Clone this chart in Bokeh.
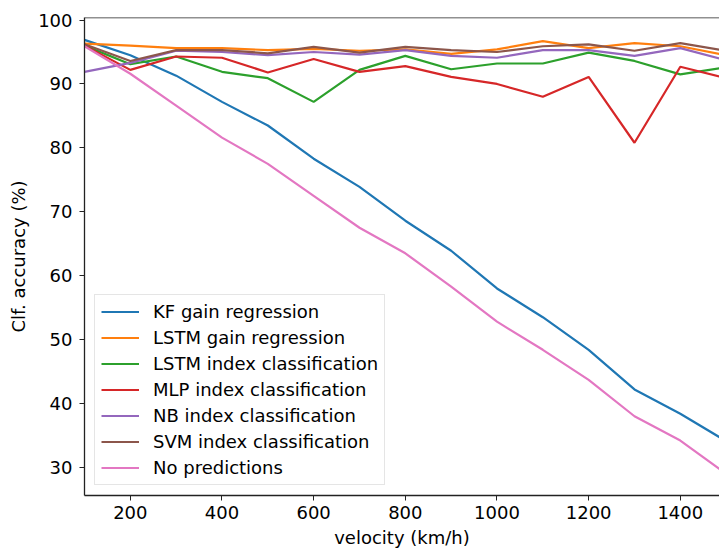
from bokeh.plotting import figure
from bokeh.models import Range1d, FixedTicker, Span
from bokeh.embed import file_html
from bokeh.resources import INLINE

velocity = [100, 200, 300, 400, 500, 600, 700, 800, 900, 1000, 1100, 1200, 1300, 1400, 1500]

kf_gain = [96.9, 94.5, 91.3, 87.2, 83.5, 78.3, 73.9, 68.6, 63.9, 58.0, 53.5, 48.4, 42.2, 38.4, 34.1]
lstm_gain = [96.3, 96.0, 95.6, 95.6, 95.3, 95.5, 95.2, 95.4, 94.7, 95.4, 96.7, 95.6, 96.4, 95.9, 94.5]
lstm_index = [96.0, 93.1, 94.3, 91.9, 90.9, 87.2, 92.2, 94.4, 92.3, 93.2, 93.2, 94.9, 93.6, 91.5, 92.6]
mlp_index = [96.0, 92.2, 94.3, 94.1, 91.8, 93.9, 91.9, 92.8, 91.1, 90.0, 88.0, 91.1, 80.8, 92.7, 90.9]
nb_index = [91.9, 93.3, 95.2, 95.0, 94.5, 95.0, 94.6, 95.3, 94.4, 94.1, 95.3, 95.3, 94.4, 95.6, 93.7]
svm_index = [96.2, 93.6, 95.3, 95.3, 94.8, 95.8, 94.9, 95.8, 95.3, 95.0, 95.9, 96.2, 95.2, 96.4, 95.2]
no_pred = [95.9, 91.6, 86.6, 81.6, 77.5, 72.5, 67.5, 63.5, 58.3, 52.8, 48.4, 43.7, 38.0, 34.2, 29.0]

series_names = ["KF gain regression", "LSTM gain regression", "LSTM index classification",
                "MLP index classification", "NB index classification", "SVM index classification",
                "No predictions"]
series_values = [kf_gain, lstm_gain, lstm_index, mlp_index, nb_index, svm_index, no_pred]
colors = ["#1f77b4", "#ff7f0e", "#2ca02c", "#d62728", "#9467bd", "#8c564b", "#e377c2"]

x_ticks = [200, 400, 600, 800, 1000, 1200, 1400]
y_ticks = [30, 40, 50, 60, 70, 80, 90, 100]

FONT = "DejaVu Sans"
FS = "18px"

p = figure(width=719, height=550, output_backend="svg", toolbar_location=None,
           x_range=Range1d(100, 1485.5), y_range=Range1d(25.6, 100.4),
           min_border_left=84, min_border_right=0, min_border_top=17, min_border_bottom=55)

for name, vals, c in zip(series_names, series_values, colors):
    p.line(velocity, vals, line_color=c, line_width=2.2, legend_label=name)

p.grid.visible = False
p.outline_line_color = None
p.add_layout(Span(location=100.4, dimension="width", line_color="#222222", line_width=1.3))

p.xaxis.ticker = FixedTicker(ticks=x_ticks)
p.yaxis.ticker = FixedTicker(ticks=y_ticks)
p.xaxis.axis_label = "velocity (km/h)"
p.yaxis.axis_label = "Clf. accuracy (%)"

for ax in (p.xaxis, p.yaxis):
    ax.axis_line_color = "#222222"
    ax.axis_line_width = 1.3
    ax.major_tick_line_color = "#222222"
    ax.major_tick_out = 5
    ax.major_tick_in = 0
    ax.minor_tick_line_color = None
    ax.major_label_text_font = FONT
    ax.major_label_text_font_size = FS
    ax.major_label_text_color = "black"
    ax.axis_label_text_font = FONT
    ax.axis_label_text_font_size = FS
    ax.axis_label_text_font_style = "normal"
    ax.axis_label_text_color = "black"

p.xaxis.major_label_standoff = 5
p.xaxis.axis_label_standoff = 5
p.yaxis.major_label_standoff = 7
p.yaxis.axis_label_standoff = 6

lg = p.legend[0]
lg.location = "bottom_left"
lg.margin = 10
lg.padding = 6
lg.spacing = 5
lg.label_height = 21
lg.glyph_height = 21
lg.glyph_width = 38
lg.label_standoff = 14
lg.label_text_font = FONT
lg.label_text_font_size = FS
lg.label_text_color = "black"
lg.border_line_color = "#cccccc"
lg.border_line_width = 1
lg.background_fill_color = "white"
lg.background_fill_alpha = 0.8

open("out.html", "w").write(file_html(p, INLINE))
